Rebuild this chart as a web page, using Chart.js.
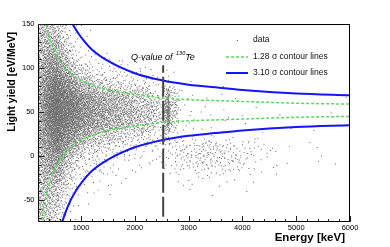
<!DOCTYPE html>
<html>
<head>
<meta charset="utf-8">
<script src="https://cdn.jsdelivr.net/npm/chart.js@4.4.1/dist/chart.umd.min.js"></script>
<style>
html, body { margin: 0; padding: 0; background: #fff; }
#wrap { width: 390px; height: 247px; }
</style>
</head>
<body>
<div id="wrap"><canvas id="ly" width="390" height="247"></canvas></div>
<script>
// scatter cloud read off the plot as counts per cell
// energy bins [keV]
const E_EDGES = [200, 300, 400, 500, 600, 700, 800, 900, 1000, 1200, 1400, 1600, 1800,
                 2000, 2200, 2400, 2595, 2650, 3000, 3500, 4000, 4500, 5000, 6000];
// light yield bins [eV/MeV]
const LY_EDGES = [-75, -60, -45, -30, -15, 0, 15, 30, 45, 60, 75, 90, 105, 120, 135, 150];
// one row per energy bin, low LY -> high LY
const COUNTS = [
	[24, 26, 28, 30, 34, 38, 42, 45, 46, 44, 40, 36, 32, 28, 24],
	[22, 26, 30, 36, 45, 55, 66, 76, 80, 76, 66, 55, 45, 36, 28],
	[18, 22, 28, 36, 50, 66, 86, 100, 105, 100, 85, 66, 48, 34, 24],
	[18, 22, 30, 42, 60, 82, 104, 120, 124, 118, 100, 74, 50, 34, 22],
	[8, 12, 18, 28, 44, 64, 86, 102, 106, 100, 80, 56, 36, 22, 12],
	[3, 5, 9, 15, 26, 46, 72, 92, 96, 88, 64, 40, 20, 10, 5],
	[1, 2, 4, 9, 18, 36, 66, 90, 94, 86, 56, 28, 10, 4, 2],
	[0, 1, 2, 4, 10, 24, 48, 70, 76, 66, 38, 16, 5, 2, 1],
	[0, 1, 2, 5, 11, 28, 70, 118, 128, 110, 56, 18, 5, 1, 1],
	[0, 0, 1, 4, 8, 18, 52, 98, 110, 90, 36, 10, 3, 1, 0],
	[0, 0, 1, 3, 5, 13, 40, 80, 90, 72, 24, 7, 2, 1, 0],
	[0, 0, 1, 2, 4, 10, 32, 68, 78, 60, 18, 5, 1, 0, 0],
	[0, 0, 0, 1, 4, 8, 24, 58, 66, 50, 14, 4, 1, 0, 0],
	[0, 0, 0, 1, 3, 7, 19, 48, 56, 42, 12, 3, 1, 0, 0],
	[0, 0, 0, 1, 3, 6, 16, 42, 48, 34, 9, 2, 1, 0, 0],
	[0, 0, 0, 1, 2, 4, 9, 18, 20, 14, 4, 1, 0, 0, 0],
	[0, 0, 0, 0, 1, 2, 6, 52, 72, 42, 4, 1, 0, 0, 0],
	[0, 0, 1, 3, 16, 22, 5, 5, 6, 4, 1, 1, 0, 0, 0],
	[0, 0, 1, 8, 40, 52, 6, 3, 4, 2, 1, 0, 0, 0, 0],
	[0, 0, 1, 5, 30, 38, 5, 2, 3, 2, 1, 0, 0, 0, 0],
	[0, 0, 0, 2, 10, 14, 3, 1, 2, 1, 0, 0, 0, 0, 0],
	[0, 0, 0, 0, 2, 3, 1, 1, 1, 0, 0, 0, 0, 0, 0],
	[0, 0, 0, 0, 2, 3, 1, 0, 1, 0, 1, 0, 0, 0, 0]
];

// 1.28 sigma contour
const GREEN_E  = [200, 250, 300, 350, 400, 500, 600, 700, 800, 900, 1000, 1200, 1500, 2000, 2500, 3000, 3500, 4000, 5000, 6000];
const GREEN_UP = [222, 188, 165, 149, 137, 120, 109, 101, 95, 90, 86, 81, 75, 70, 66, 64, 63, 62, 60, 59];
const GREEN_LO = [-118, -84, -61, -45, -33, -16, -5, 3, 9, 14, 18, 23, 29, 34, 38, 40, 41, 42, 44, 45];
// 3.10 sigma contour
const BLUE_E  = [450, 500, 600, 700, 800, 900, 1000, 1200, 1500, 2000, 2500, 3000, 3500, 4000, 5000, 6000];
const BLUE_UP = [235, 217, 189, 170, 155, 144, 135, 121, 108, 94, 86, 81, 78, 75, 71, 69];
const BLUE_LO = [-131, -113, -85, -66, -51, -40, -31, -17, -4, 10, 18, 23, 26, 29, 33, 35];

const Q_VALUE = 2527;
const Q_LINE_Y = [-69, 103];

const X_TICKS = [1000, 2000, 3000, 4000, 5000, 6000];
const Y_TICKS = [-50, 0, 50, 100, 150];

const FONT = 'Liberation Sans, Arial, Helvetica, sans-serif';
const BLUE = '#1414ff';
const GREEN = '#5ad85a';
const DOT = '#666';

// radical inverse, gives an even but irregular spread of events
function halton(i, b) {
	let f = 1, r = 0;
	while (i > 0) {
		f /= b;
		r += f * (i % b);
		i = Math.floor(i / b);
	}
	return r;
}

function cellIndex(edges, v) {
	for (let i = 0; i < edges.length - 1; i++) {
		if (v < edges[i + 1]) return i;
	}
	return edges.length - 2;
}

// events per (keV * eV/MeV) in a cell
function cellDensity(i, j) {
	return COUNTS[i][j] / ((E_EDGES[i + 1] - E_EDGES[i]) * (LY_EDGES[j + 1] - LY_EDGES[j]));
}

// events are spread over the plane so that each cell keeps its count on average
function cloudPoints() {
	let eMin = E_EDGES[0], eMax = E_EDGES[E_EDGES.length - 1];
	let lMin = LY_EDGES[0], lMax = LY_EDGES[LY_EDGES.length - 1];
	let dMax = 0;
	COUNTS.forEach(function (row, i) {
		row.forEach(function (n, j) { dMax = Math.max(dMax, cellDensity(i, j)); });
	});
	let total = Math.round((eMax - eMin) * (lMax - lMin) * dMax);
	let pts = [];
	for (let k = 1; k <= total; k++) {
		let x = eMin + halton(k, 2) * (eMax - eMin);
		let y = lMin + halton(k, 3) * (lMax - lMin);
		// soften the cell borders: look the density up a little off the event
		let i = cellIndex(E_EDGES, x);
		let j = cellIndex(LY_EDGES, y + (halton(k, 7) - 0.5) * 15);
		let xi = cellIndex(E_EDGES, x + (halton(k, 11) - 0.5) * (E_EDGES[i + 1] - E_EDGES[i]));
		if (halton(k, 5) < cellDensity(xi, j) / dMax) pts.push({ x: x, y: y });
	}
	return pts;
}

function curve(xs, ys) {
	return xs.map(function (x, i) { return { x: x, y: ys[i] }; });
}

function lineSet(xs, ys, color, width, dash) {
	return {
		type: 'line',
		data: curve(xs, ys),
		borderColor: color,
		borderWidth: width,
		borderDash: dash,
		pointRadius: 0,
		cubicInterpolationMode: 'monotone',
		fill: false,
		clip: 0,
		order: 1
	};
}

const rootFrame = {
	id: 'rootFrame',
	afterDatasetsDraw(chart) {
		const { ctx, chartArea: a, scales: { x, y } } = chart;
		ctx.save();
		ctx.strokeStyle = '#000';
		ctx.lineWidth = 1;
		ctx.strokeRect(Math.round(a.left) + 0.5, Math.round(a.top) + 0.5,
			Math.round(a.right - a.left) - 1, Math.round(a.bottom - a.top) - 1);
		ctx.strokeStyle = '#222';
		ctx.beginPath();
		for (let v = 200; v <= 6000; v += 200) {
			let px = Math.round(x.getPixelForValue(v)) + 0.5;
			let len = v % 1000 === 0 ? 6 : 3;
			ctx.moveTo(px, a.bottom);
			ctx.lineTo(px, a.bottom - len);
		}
		for (let v = -70; v <= 150; v += 10) {
			let py = Math.round(y.getPixelForValue(v)) + 0.5;
			let len = v % 50 === 0 ? 6.5 : 3.5;
			ctx.moveTo(a.left, py);
			ctx.lineTo(a.left + len, py);
		}
		ctx.stroke();
		ctx.restore();
	},
	afterDraw(chart) {
		const ctx = chart.ctx;
		ctx.save();
		ctx.fillStyle = '#000';
		ctx.textBaseline = 'middle';

		// axis titles
		ctx.font = 'bold 11.5px ' + FONT;
		ctx.textAlign = 'right';
		ctx.fillText('Energy [keV]', 345, 238);
		ctx.save();
		ctx.translate(11.7, 32);
		ctx.rotate(-Math.PI / 2);
		ctx.font = 'bold 10.5px ' + FONT;
		ctx.fillText('Light yield [eV/MeV]', 0, 0);
		ctx.restore();

		// Q-value label
		ctx.textAlign = 'left';
		ctx.font = 'italic 9px ' + FONT;
		let tx = 131;
		ctx.fillText('Q-value of ', tx, 57);
		tx += ctx.measureText('Q-value of ').width + 1;
		ctx.font = 'italic 5.5px ' + FONT;
		ctx.fillText('130', tx, 53);
		tx += ctx.measureText('130').width;
		ctx.font = 'italic 9px ' + FONT;
		ctx.fillText('Te', tx, 57);

		// legend
		ctx.font = '8.5px ' + FONT;
		ctx.fillStyle = '#111';
		ctx.fillText('data', 253, 40);
		ctx.fillText('1.28 \u03c3 contour lines', 253, 57);
		ctx.fillText('3.10 \u03c3 contour lines', 253, 73);
		ctx.fillStyle = DOT;
		ctx.fillRect(237, 40, 1, 1);
		ctx.lineWidth = 1.5;
		ctx.strokeStyle = GREEN;
		ctx.setLineDash([3, 2]);
		ctx.beginPath();
		ctx.moveTo(226, 57);
		ctx.lineTo(248, 57);
		ctx.stroke();
		ctx.setLineDash([]);
		ctx.lineWidth = 2;
		ctx.strokeStyle = BLUE;
		ctx.beginPath();
		ctx.moveTo(226, 73);
		ctx.lineTo(248, 73);
		ctx.stroke();
		ctx.restore();
	}
};

const tickFont = { family: FONT, size: 7.5 };

new Chart(document.getElementById('ly').getContext('2d'), {
	type: 'scatter',
	data: {
		datasets: [
			lineSet(GREEN_E, GREEN_UP, GREEN, 1.5, [3, 2]),
			lineSet(GREEN_E, GREEN_LO, GREEN, 1.5, [3, 2]),
			lineSet(BLUE_E, BLUE_UP, BLUE, 2, []),
			lineSet(BLUE_E, BLUE_LO, BLUE, 2, []),
			{
				type: 'line',
				data: [{ x: Q_VALUE, y: Q_LINE_Y[0] }, { x: Q_VALUE, y: Q_LINE_Y[1] }],
				borderColor: '#444',
				borderWidth: 2,
				borderDash: [20, 4],
				pointRadius: 0,
				order: 0
			},
			{
				label: 'data',
				data: cloudPoints(),
				pointStyle: 'rect',
				pointRadius: 0.7,
				backgroundColor: DOT,
				borderWidth: 0,
				order: 10
			}
		]
	},
	options: {
		responsive: false,
		animation: false,
		events: [],
		layout: { padding: { top: 24, right: 40, left: 0, bottom: 0 } },
		plugins: { legend: { display: false }, tooltip: { enabled: false } },
		scales: {
			x: {
				type: 'linear',
				min: 200,
				max: 6000,
				border: { display: false },
				grid: { display: false, drawTicks: false },
				ticks: { font: tickFont, color: '#000', padding: 1, maxRotation: 0, autoSkip: false,
					callback: function (v) { return String(v); } },
				afterBuildTicks: function (s) { s.ticks = X_TICKS.map(function (v) { return { value: v }; }); },
				afterFit: function (s) { s.height = 25; }
			},
			y: {
				type: 'linear',
				min: -75,
				max: 150,
				border: { display: false },
				grid: { display: false, drawTicks: false },
				ticks: { font: tickFont, color: '#000', padding: 3.5, autoSkip: false,
					callback: function (v) { return String(v); } },
				afterBuildTicks: function (s) { s.ticks = Y_TICKS.map(function (v) { return { value: v }; }); },
				afterFit: function (s) { s.width = 38; }
			}
		}
	},
	plugins: [rootFrame]
});
</script>
</body>
</html>
